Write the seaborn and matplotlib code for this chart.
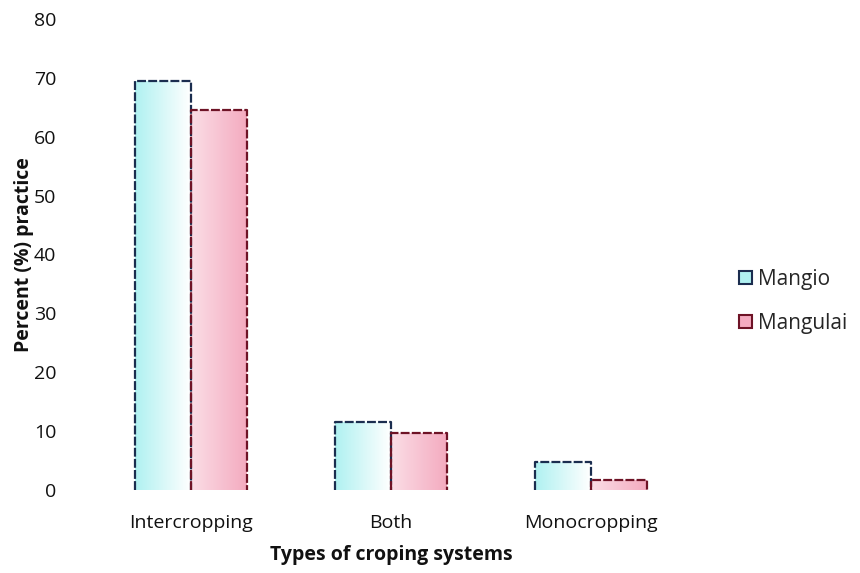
import numpy as np
import pandas as pd
import matplotlib
matplotlib.use('Agg')
import matplotlib.pyplot as plt
import seaborn as sns
from matplotlib.colors import LinearSegmentedColormap
from matplotlib.patches import Patch

# data
systems = ['Intercropping', 'Both', 'Monocropping']
mangio = [69.5, 11.6, 4.8]
mangulai = [64.5, 9.7, 1.6]
sites = ['Mangio', 'Mangulai']

df = pd.DataFrame({'System': systems * 2,
                   'Site': ['Mangio'] * 3 + ['Mangulai'] * 3,
                   'Percent': mangio + mangulai})

sns.set_theme(style='white')
plt.rcParams['font.family'] = ['Open Sans', 'DejaVu Sans']

fig = plt.figure(figsize=(8.6, 5.73), dpi=100)
ax = fig.add_axes([0.106, 0.145, 0.697, 0.822])

fills = {'Mangio': '#b0f1f1', 'Mangulai': '#f4abc0'}
edges = {'Mangio': '#1b2d4f', 'Mangulai': '#6e1326'}

sns.barplot(data=df, x='System', y='Percent', hue='Site', hue_order=sites,
            palette=fills, width=0.56, gap=0, ax=ax, saturation=1)

# gradient fill + dashed outline per bar
cmaps = {s: LinearSegmentedColormap.from_list(s, [fills[s], '#ffffff']) for s in sites}
grad = np.linspace(0, 1, 64).reshape(1, -1)
for cont, site in zip(ax.containers, sites):
    for p in cont.patches:
        x0, y0 = p.get_x(), p.get_y()
        w, h = p.get_width(), p.get_height()
        p.set_facecolor('none')
        p.set_edgecolor('none')
        im = ax.imshow(grad if site == 'Mangio' else grad[:, ::-1] * 0.6,
                       cmap=cmaps[site], vmin=0, vmax=1,
                       extent=[x0, x0 + w, y0, y0 + h], aspect='auto', zorder=1)
        im.set_clip_path(p)
        ax.plot([x0, x0, x0 + w, x0 + w], [y0, y0 + h, y0 + h, y0],
                color=edges[site], lw=1.6, ls=(0, (4, 1)), zorder=3)

ax.set_xlim(-0.5, 2.5)
ax.set_ylim(0, 80)
ax.set_yticks(range(0, 81, 10))
ax.tick_params(axis='both', labelsize=14, colors='#111111', length=0)
ax.tick_params(axis='y', pad=25)
ax.tick_params(axis='x', pad=17)
for s in ax.spines.values():
    s.set_visible(False)
ax.grid(False)

ax.set_xlabel('Types of croping systems', fontsize=14, fontweight='bold',
              color='#111111', labelpad=10)
ax.set_ylabel('Percent (%) practice', fontsize=14, fontweight='bold',
              color='#111111', labelpad=0)

handles = [Patch(facecolor=fills[s], edgecolor=edges[s], lw=1.5) for s in sites]
ax.legend(handles, sites, loc='center left', bbox_to_anchor=(1.05, 0.40),
          frameon=False, fontsize=15, handlelength=0.6, handleheight=0.6,
          handletextpad=0.3, labelspacing=1.1)

fig.savefig('out.png', dpi=100)
